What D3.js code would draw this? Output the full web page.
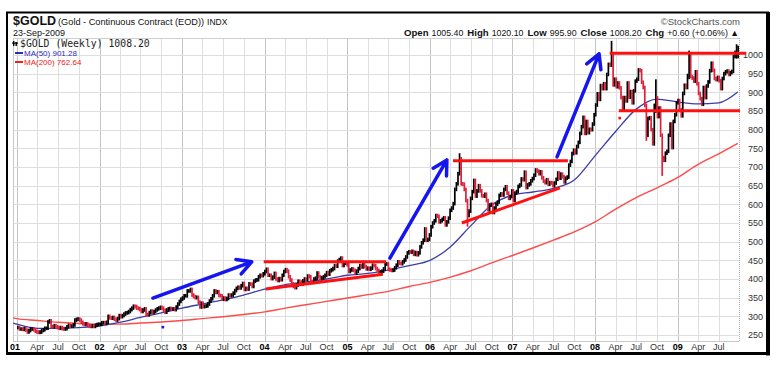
<!DOCTYPE html>
<html><head><meta charset="utf-8">
<script src="https://cdn.jsdelivr.net/npm/d3@7"></script>
<style>
html,body{margin:0;padding:0;background:#fff;}
svg{display:block;font-family:"Liberation Sans",Arial,sans-serif;}
</style></head><body>
<svg id="c" width="780" height="366"></svg>
<script>
// ---- weekly closes (Fridays) ----
const firstWeek = "2001-01-05";
const close2001 = [270,266,266,265, 267,263,258,262, 266,266,264,260,258, 257,258,262,264, 268,268,285,288, 273,272,275,272,270, 268,270,267,266, 267,272,276,274,274, 277,290,292,293, 290,284,280,278, 280,276,274,273,275, 273,276,278,279];
const close2002 = [279,283,283,281, 284,300,296,295, 297,292,290,294,302, 299,302,306,309, 310,313,318,322,327, 326,322,321,318, 313,317,320,305, 304,310,314,310,313, 317,320,322,324, 322,316,311,317, 320,321,319,320,318, 325,333,340,346];
const close2003 = [349,355,355,368,368, 372,357,353,350, 351,338,325,335, 326,327,328,333, 341,347,355,368,364, 366,356,355,346, 349,345,348,357, 355,357,362,369,375, 378,376,382,388, 372,375,373,387,386, 380,394,397,398, 406,410,409,414];
const close2004 = [420,426,410,410,401, 405,415,400,396, 401,398,410,420, 425,421,406,397,387, 380,377,384,394, 392,386,395,400, 398,408,406,393,391, 400,402,416,406, 400,403,406,410, 417,413,422,425,428, 436,434,448,452, 456,436,442,442,438];
const close2005 = [420,424,427,423, 416,421,428,436, 432,444,433,427, 429,426,429,437,436, 428,423,419,419, 421,427,440,441, 426,424,423,424,430, 437,446,442,441, 446,451,459,470,473, 472,474,466,471, 465,470,486,497, 504,534,504,506,518];
const close2006 = [540,550,556,570, 568,553,556,560, 564,545,553,563,584, 590,602,640,655, 682,722,655,654, 640,610,570,582,616, 634,664,622,636, 650,636,623,622, 627,610,585,598,600, 578,590,600,606, 624,628,625,640, 647,630,616,621,636];
const close2007 = [610,630,634,648, 652,668,666,686, 645,652,655,663,669, 678,692,689,682, 687,671,662,658, 666,654,658,657,650, 657,667,684,670, 681,674,660,670,673, 705,715,736,745, 738,755,766,790, 808,833,790,822,792, 801,800,815,840];
const close2008 = [866,896,881,918, 910,923,910,948,975, 973,1000,920,935, 915,925,912,886, 853,886,877,925,887, 902,872,904,930, 935,960,958,927, 913,865,785,830,832, 800,762,865,885, 835,858,785,725,718, 737,742,785,815, 752,822,840,872];
const close2009 = [878,853,837,897,919, 913,945,1002,942, 938,930,955,923, 897,883,868,913, 886,917,928,958,978, 959,937,934,940, 931,910,937,950,955, 957,948,953,956, 996,1007,1007,1008];

// intraweek extremes that stand out on the chart: [week, low, high]
const wickWeeks = [
  ["2006-05-12",690,732],["2006-06-16",545,600],
  ["2008-03-14",975,1033],["2008-08-15",775,840],["2008-09-26",850,930],
  ["2008-10-24",681,760],["2009-02-20",940,1007],["2009-09-18",995,1024],["2009-09-25",996,1020]
];

// ---- moving averages ----
const maDates = ["2000-12-15","2001-01-01","2001-04-01","2001-07-01","2001-10-01","2002-01-01","2002-04-01","2002-07-01","2002-10-01","2003-01-01","2003-04-01","2003-07-01","2003-10-01","2004-01-01","2004-04-01","2004-07-01","2004-10-01","2005-01-01","2005-04-01","2005-07-01","2005-10-01","2006-01-01","2006-04-01","2006-07-01","2006-10-01","2007-01-01","2007-04-01","2007-07-01","2007-10-01","2008-01-01","2008-04-01","2008-07-01","2008-10-01","2009-01-01","2009-04-01","2009-07-01","2009-09-23"];
const ma50  = [282,279,268,268,270,274,284,297,309,322,333,344,357,373,385,392,400,410,415,424,436,450,486,543,598,625,633,643,665,730,795,855,882,874,869,872,901];
const ma200 = [296,294,289,284,281,279,279,282,285,289,294,299,305,312,322,331,340,349,358,367,380,391,405,422,443,463,483,504,526,553,587,618,644,672,707,735,763];

// ---- axis ticks ----
const yTicks = [250,300,350,400,450,500,550,600,650,700,750,800,850,900,950,1000];
const monthNames = {0:null,3:"Apr",6:"Jul",9:"Oct"};

// ---- hand-drawn annotations (date, value) ----
const blueArrows = [
  ["2002-08-25",349,"2003-11-05",446],
  ["2005-07-08",456,"2006-03-17",719],
  ["2007-07-17",727,"2008-01-19",1003]
];
const redLines = [
  ["2003-12-28",446,"2005-06-21",446],
  ["2004-01-06",373,"2005-06-07",413],
  ["2006-04-13",717,"2007-09-03",717],
  ["2006-05-22",550,"2007-07-30",644],
  ["2008-03-06",1005,"2009-10-30",1005],
  ["2008-04-15",851,"2009-10-03",851]
];
const blueDots = [["2002-10-08",271]];
const redDots = [["2008-04-19",831]];

const quote = [["Open","1005.40"],["High","1020.10"],["Low","995.90"],["Close","1008.20"],["Chg","+0.60 (+0.06%) \u25B2"]];

// ---------------------------------------------------------
const parse = d3.timeParse("%Y-%m-%d");
const fmtD = d3.timeFormat("%Y-%m-%d");
const closes = [].concat(close2001,close2002,close2003,close2004,close2005,close2006,close2007,close2008,close2009);
const wickMap = new Map(wickWeeks.map(w=>[w[0],w]));
const t0 = parse(firstWeek);
const weeks = closes.map((c,i)=>{
  const date = d3.timeDay.offset(t0,7*i);
  const p = i? closes[i-1] : c;
  const w = wickMap.get(fmtD(date));
  return {date, close:c, prev:p,
    lo: Math.min(c,p, w? w[1] : Infinity),
    hi: Math.max(c,p, w? w[2] : -Infinity)};
});

const L=13, R=739, T=38, B=341;
const x = d3.scaleTime().domain([new Date(2001,0,1), new Date(2009,0,1)]).range([17, 677.8]);
const y = d3.scaleLinear().domain([250,1000]).range([335,55]);

const svg = d3.select("#c");
svg.append("rect").attr("width",780).attr("height",366).attr("fill","#fff");

// frame
svg.append("rect").attr("x",7).attr("y",12.5).attr("width",761).attr("height",341).attr("fill","none").attr("stroke","#000").attr("stroke-width",2);
svg.append("rect").attr("x",766).attr("y",12).attr("width",4).attr("height",343.5).attr("fill","#000");
svg.append("rect").attr("x",6).attr("y",352).attr("width",764).attr("height",3).attr("fill","#000");

// grid
const g = svg.append("g");
const qTicks = d3.timeMonth.every(3).range(new Date(2001,0,1), new Date(2009,9,1));
g.selectAll("line.v").data(qTicks).join("line")
  .attr("x1",d=>Math.round(x(d))+0.5).attr("x2",d=>Math.round(x(d))+0.5)
  .attr("y1",T).attr("y2",B)
  .attr("stroke",d=>d.getMonth()===0?"#c4c4c4":"#dedede").attr("stroke-width",1);
g.selectAll("line.h").data(yTicks).join("line")
  .attr("x1",L).attr("x2",R)
  .attr("y1",d=>Math.round(y(d))+0.5).attr("y2",d=>Math.round(y(d))+0.5)
  .attr("stroke","#dedede");
g.append("line").attr("x1",L).attr("x2",R).attr("y1",T+0.5).attr("y2",T+0.5).attr("stroke","#d0d0d0");
g.append("line").attr("x1",L).attr("x2",R).attr("y1",B+0.5).attr("y2",B+0.5).attr("stroke","#c8c8c8");
g.append("line").attr("x1",L+0.5).attr("x2",L+0.5).attr("y1",T).attr("y2",B).attr("stroke","#c8c8c8");
g.append("line").attr("x1",R+0.5).attr("x2",R+0.5).attr("y1",T).attr("y2",B).attr("stroke","#aaa").attr("stroke-dasharray","1,1");

// clip
svg.append("clipPath").attr("id","pc").append("rect").attr("x",L).attr("y",T).attr("width",R-L).attr("height",B-T);
const plot = svg.append("g").attr("clip-path","url(#pc)");

// moving averages
const maPts = maDates.map((d,i)=>({date:parse(d), a:ma50[i], b:ma200[i]}));
plot.append("path").datum(maPts)
  .attr("d",d3.line().x(d=>x(d.date)).y(d=>y(d.b)).curve(d3.curveMonotoneX))
  .attr("fill","none").attr("stroke","#ff4a4a").attr("stroke-width",1.4);
plot.append("path").datum(maPts)
  .attr("d",d3.line().x(d=>x(d.date)).y(d=>y(d.a)).curve(d3.curveMonotoneX))
  .attr("fill","none").attr("stroke","#3d3daa").attr("stroke-width",1.3);

// price bars
plot.selectAll("rect.bar").data(weeks).join("rect")
  .attr("x",d=>x(d.date)-0.85).attr("width",1.7)
  .attr("y",d=>y(d.hi)-1.8)
  .attr("height",d=>y(d.lo)-y(d.hi)+3.6)
  .attr("fill",d=>d.close>=d.prev?"#000":"#e0203a");

// axis labels
const fmtY = d3.format("d");
svg.selectAll("text.yl").data(yTicks).join("text")
  .attr("x",763).attr("y",d=>y(d)+3.2).attr("text-anchor","end")
  .attr("font-size",9).attr("fill","#333").text(fmtY);
svg.selectAll("text.xl").data(qTicks).join("text")
  .attr("x",(d,i)=> i===0 ? 10 : x(d))
  .attr("text-anchor",(d,i)=> i===0 ? "start" : "middle")
  .attr("y",350)
  .attr("font-size",9)
  .attr("font-weight",d=>d.getMonth()===0?"bold":"normal")
  .attr("fill",d=>d.getMonth()===0?"#000":"#333")
  .text(d=>d.getMonth()===0? d3.timeFormat("%y")(d) : monthNames[d.getMonth()]);

// header
const h = svg.append("text").attr("x",13).attr("y",25).attr("fill","#111");
h.append("tspan").attr("font-weight","bold").attr("font-size",12.5).text("$GOLD");
h.append("tspan").attr("font-size",9.2).attr("dx",2).text("(Gold - Continuous Contract (EOD))");
h.append("tspan").attr("font-size",8.5).attr("dx",3).text("INDX");
svg.append("text").attr("x",13).attr("y",36).attr("font-size",9).attr("fill","#111").text("23-Sep-2009");
svg.append("text").attr("x",740).attr("y",24.5).attr("text-anchor","end").attr("font-size",9.5).attr("fill","#555").text("\u00A9StockCharts.com");
const q = svg.append("text").attr("x",739).attr("y",36).attr("text-anchor","end").attr("fill","#111");
quote.forEach(([k,v],i)=>{
  q.append("tspan").attr("font-weight","bold").attr("font-size",9.6).attr("dx",i?4:0).text(k);
  q.append("tspan").attr("font-size",8.8).attr("dx",3).text(v);
});

// legend
const lg = svg.append("g");
lg.append("rect").attr("x",13).attr("y",41).attr("width",1.4).attr("height",5).attr("fill","#000");
lg.append("rect").attr("x",15.5).attr("y",42).attr("width",1.4).attr("height",4).attr("fill","#000");
lg.append("rect").attr("x",12).attr("y",42.5).attr("width",6).attr("height",1.2).attr("fill","#000");
lg.append("text").attr("x",20).attr("y",47).attr("font-family","'DejaVu Sans Mono',monospace").attr("font-size",9.8).attr("fill","#222").text("$GOLD (Weekly) 1008.20");
lg.append("line").attr("x1",15).attr("x2",23).attr("y1",53).attr("y2",53).attr("stroke","#2b2bc0").attr("stroke-width",2);
lg.append("text").attr("x",24).attr("y",56).attr("font-size",8).attr("fill","#2b2bc0").text("MA(50) 901.28");
lg.append("line").attr("x1",15).attr("x2",23).attr("y1",62).attr("y2",62).attr("stroke","#f02020").attr("stroke-width",2);
lg.append("text").attr("x",24).attr("y",65).attr("font-size",8).attr("fill","#f02020").text("MA(200) 762.64");

// annotations
const an = svg.append("g");
redLines.forEach(([d1,v1,d2,v2])=>{
  an.append("line").attr("x1",x(parse(d1))).attr("y1",y(v1)).attr("x2",x(parse(d2))).attr("y2",y(v2))
    .attr("stroke","#ff1010").attr("stroke-width",3);
});
blueArrows.forEach(([d1,v1,d2,v2])=>{
  const x1=x(parse(d1)), y1=y(v1), x2=x(parse(d2)), y2=y(v2);
  const a = Math.atan2(y2-y1,x2-x1), len=16, sp=0.5;
  const p = d3.path();
  p.moveTo(x1,y1); p.lineTo(x2,y2);
  p.moveTo(x2+len*Math.cos(a+Math.PI-sp), y2+len*Math.sin(a+Math.PI-sp));
  p.lineTo(x2,y2);
  p.lineTo(x2+len*Math.cos(a+Math.PI+sp), y2+len*Math.sin(a+Math.PI+sp));
  an.append("path").attr("d",p.toString()).attr("fill","none").attr("stroke","#1515f0")
    .attr("stroke-width",3.5).attr("stroke-linecap","round").attr("stroke-linejoin","round");
});
blueDots.forEach(([d,v])=>an.append("rect").attr("x",x(parse(d))-1.3).attr("y",y(v)-1.3).attr("width",2.6).attr("height",2.6).attr("fill","#1515f0"));
redDots.forEach(([d,v])=>an.append("rect").attr("x",x(parse(d))-1.3).attr("y",y(v)-1.3).attr("width",2.6).attr("height",2.6).attr("fill","#ff1010"));
</script>
</body></html>
